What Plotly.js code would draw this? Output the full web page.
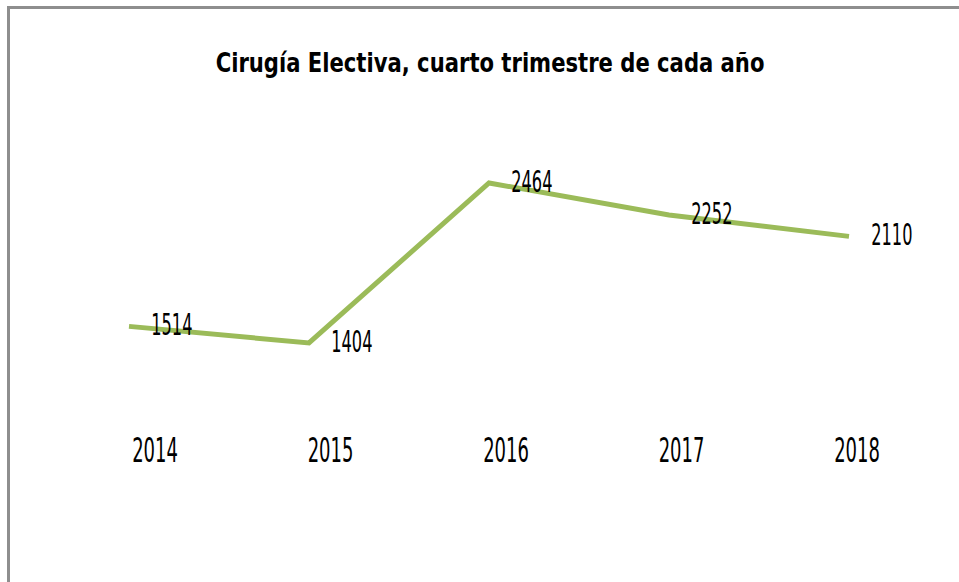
<!DOCTYPE html>
<html>
<head>
<meta charset="utf-8">
<script src="https://cdn.plot.ly/plotly-3.0.1.min.js"></script>
<style>
html,body{margin:0;padding:0;background:#fff;overflow:hidden;}
#wrap{position:relative;width:959px;height:582px;}
#chart{position:absolute;left:0;top:0;width:959px;height:582px;}
#frame{position:absolute;left:7px;top:6px;width:1000px;height:1000px;border:3px solid #8e8e8e;box-sizing:border-box;pointer-events:none;}
</style>
</head>
<body>
<div id="wrap"><div id="chart"></div><div id="frame"></div></div>
<script>
const years = ['2014', '2015', '2016', '2017', '2018'];
const values = [1514, 1404, 2464, 2252, 2110];
const labels = values.map(String);
const titleText = 'Cirugía Electiva, cuarto trimestre de cada año';

const FONT = '"DejaVu Sans Condensed", "Liberation Sans Narrow", sans-serif';

const traces = [
  {
    x: years, y: values, type: 'scatter', mode: 'lines+markers+text',
    line: {color: '#9BBB59', width: 5},
    marker: {size: 34, color: 'rgba(0,0,0,0)'},
    text: labels, textposition: 'middle right',
    textfont: {family: FONT, size: 18, color: '#000'},
    hoverinfo: 'skip', cliponaxis: false
  },
  {
    x: years, y: values, type: 'scatter', mode: 'lines', xaxis: 'x2',
    line: {width: 0, color: 'rgba(0,0,0,0)'}, hoverinfo: 'skip', showlegend: false
  }
];

const layout = {
  width: 959, height: 582,
  margin: {l: 39, r: 20, t: 102, b: 146},
  paper_bgcolor: '#fff', plot_bgcolor: '#fff',
  showlegend: false,
  title: {text: '<b>' + titleText + '</b>', font: {family: FONT, size: 23.5, color: '#000'},
          x: 0.511, xanchor: 'center', y: 0.893, yanchor: 'middle'},
  xaxis: {type: 'category', range: [-0.5, 4.5], showticklabels: false, showgrid: false,
          zeroline: false, showline: false, ticks: ''},
  xaxis2: {type: 'category', overlaying: 'x', anchor: 'y', side: 'bottom', range: [-0.661, 4.467],
           showgrid: false, zeroline: false, showline: false, ticks: '',
           tickfont: {family: FONT, size: 20, color: '#000'}},
  yaxis: {range: [788, 3000], visible: false, showgrid: false, zeroline: false}
};

function stretch(sel, sy) {
  document.querySelectorAll(sel).forEach(function (el) {
    const b = el.getBBox();
    const cx = b.x + b.width / 2, cy = b.y + b.height / 2;
    const prev = el.getAttribute('transform') || '';
    el.setAttribute('transform', prev + ' translate(' + cx + ',' + cy + ') scale(1,' + sy + ') translate(' + (-cx) + ',' + (-cy) + ')');
  });
}

Plotly.newPlot('chart', traces, layout, {displayModeBar: false, staticPlot: true}).then(function () {
  stretch('#chart .x2tick text', 1.65);
  stretch('#chart .textpoint text', 1.7);
  stretch('#chart .gtitle', 1.15);
});
</script>
</body>
</html>
